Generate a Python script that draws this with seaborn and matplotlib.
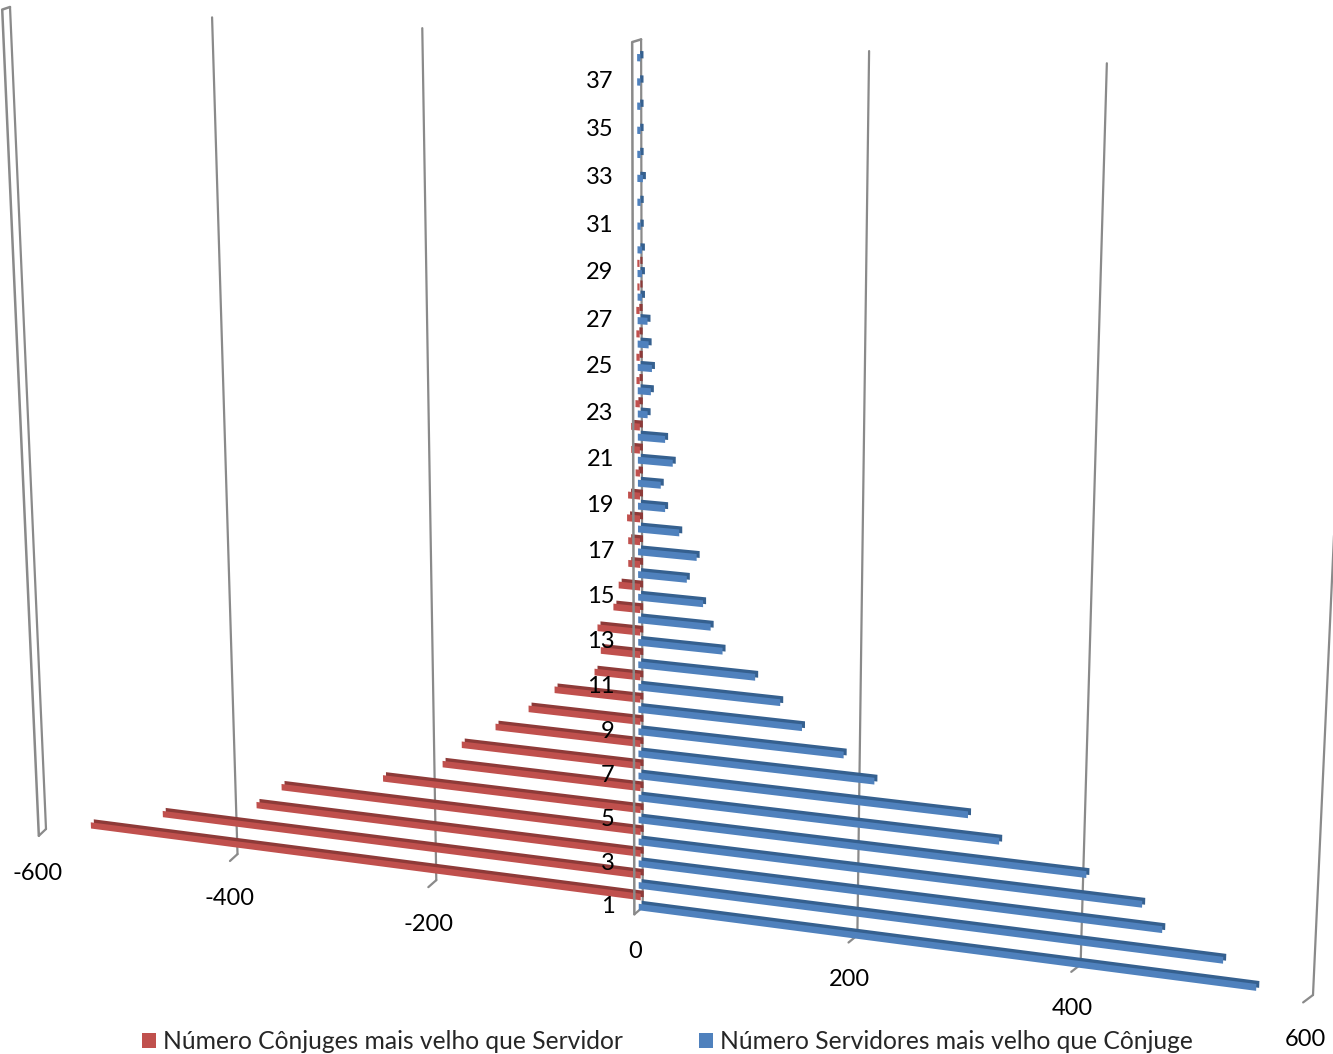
# perspective population-style bar chart, seaborn bars pushed through a homography

import numpy as np
import pandas as pd
import matplotlib
matplotlib.use('Agg')
import matplotlib.pyplot as plt
import matplotlib.transforms as mtransforms
import seaborn as sns

# data
idade = list(range(1, 39))
servidores = [555, 526, 473, 455, 406, 329, 301, 217, 189, 151, 131, 108, 78, 67, 60, 45, 54, 38, 25, 21,
              32, 25, 9, 12, 13, 10, 9, 4, 4, 4, 3, 3, 5, 3, 3, 3, 3, 3]
conjuges = [550, 474, 377, 351, 249, 190, 171, 138, 106, 81, 43, 37, 40, 25, 20, 11, 11, 12, 11, 4,
            8, 8, 4, 3, 3, 3, 3, 2, 2, 0, 0, 0, 0, 0, 0, 0, 0, 0]
nome_conjuges = 'Número Cônjuges mais velho que Servidor'
nome_servidores = 'Número Servidores mais velho que Cônjuge'
valor_ticks = [-600, -400, -200, 0, 200, 400, 600]
idade_ticks = list(range(1, 38, 2))

# colours
vermelho = '#C0504D'
vermelho_esc = '#8E3A38'
azul = '#4F81BD'
azul_esc = '#35608F'
cinza = '#8A8A8A'

sns.set_theme(style='white')
plt.rcParams['font.family'] = ['Lato', 'DejaVu Sans']


# homography from (value, category) to image pixels
class Perspectiva(mtransforms.Transform):
    input_dims = 2
    output_dims = 2

    def __init__(self, m):
        super().__init__()
        self.m = m

    def transform_non_affine(self, xy):
        xy = np.asarray(xy, dtype=float)
        p = np.column_stack([xy, np.ones(len(xy))]) @ self.m.T
        return p[:, :2] / p[:, 2:]


def homografia(src, dst):
    a, b = [], []
    for (x, y), (u, v) in zip(src, dst):
        a.append([x, y, 1, 0, 0, 0, -u * x, -u * y])
        a.append([0, 0, 0, x, y, 1, -v * x, -v * y])
        b += [u, v]
    return np.append(np.linalg.solve(np.array(a, float), np.array(b, float)), 1).reshape(3, 3)


IMIN, IMAX = 0.6, 38.4
H = homografia([(-600, IMIN), (600, IMIN), (-600, IMAX), (600, IMAX)],
               [(46, 829), (1313, 995), (10, 7), (1355, 76)])


def pix(dx=0, dy=0):
    # pixel offset in image coords, then flip to display coords
    return Perspectiva(H) + mtransforms.Affine2D().translate(dx, dy).scale(1, -1).translate(0, 1054)


fig = plt.figure(figsize=(13.33, 10.54), dpi=100)
ax = fig.add_axes([0, 0, 1, 1])

df = pd.DataFrame({
    'idade': idade * 2,
    'valor': [-v for v in conjuges] + servidores,
    'serie': [nome_conjuges] * 38 + [nome_servidores] * 38,
})

# dark copy first (top face and end of the bars), then the front face
sns.barplot(data=df, x='valor', y='idade', hue='serie', palette=[vermelho_esc, azul_esc], orient='h',
            native_scale=True, dodge=False, width=0.3, saturation=1, linewidth=0, legend=False, ax=ax)
n_esc = len(ax.patches)
sns.barplot(data=df, x='valor', y='idade', hue='serie', palette=[vermelho, azul], orient='h',
            native_scale=True, dodge=False, width=0.3, saturation=1, linewidth=0, ax=ax)

for k, p in enumerate(ax.patches):
    esc = k < n_esc
    lado_azul = (k % n_esc) >= n_esc // 2
    if lado_azul:
        p.set_transform(pix(-1, 5.5) if esc else pix(-4, 8.5))
    else:
        p.set_transform(pix(1, -4.5) if esc else pix(-2, -1.5))
    p.set_clip_on(False)
    p.set_zorder((2 if lado_azul else 1) + (0 if esc else 0.1))

handles, labels = ax.get_legend_handles_labels()

# gridlines with their little floor tick
for v in valor_ticks:
    ax.plot([v, v], [IMIN, IMAX], color=cinza, lw=1.6, transform=pix(), clip_on=False, zorder=0.5)
    ax.plot([v, v - 8], [IMIN, IMIN - 0.38], color=cinza, lw=1.6, transform=pix(), clip_on=False, zorder=0.5)
    ax.text(v, IMIN, str(v), transform=pix(-8, 44), ha='center', va='center', fontsize=17, color='black')

# front edge of the walls
for v in [-600, 0]:
    ax.plot([v, v - 8, v - 8], [IMAX, IMAX - 0.13, IMIN - 0.38], color=cinza, lw=1.8, transform=pix(),
            clip_on=False, zorder=1.5)

for i in idade_ticks:
    ax.text(0, i, str(i), transform=pix(-28, 8), ha='right', va='center', fontsize=17, color='black')

ax.legend(handles, labels, ncol=2, frameon=False, loc='center left', bbox_to_anchor=(0.1065, 0.0118),
          bbox_transform=fig.transFigure, fontsize=17.7, handlelength=0.56, handleheight=0.56,
          handletextpad=0.3, columnspacing=3.1, borderpad=0, borderaxespad=0)

ax.axis('off')
plt.savefig('out.png', dpi=100)
